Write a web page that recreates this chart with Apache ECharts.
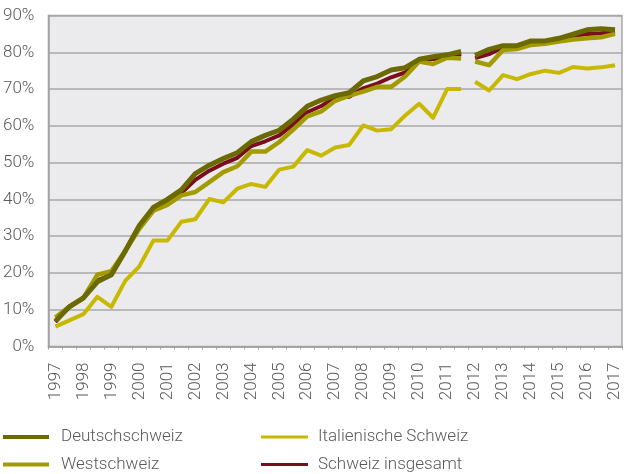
<!DOCTYPE html>
<html>
<head>
<meta charset="utf-8">
<script src="https://cdn.jsdelivr.net/npm/echarts@6/dist/echarts.min.js"></script>
<style>
  html, body { margin: 0; padding: 0; background: #fff; }
  #chart { width: 624px; height: 474px; }
</style>
</head>
<body>
<div id="chart"></div>
<script>
// half-year points, labels only on full years
const years = [1997, 1998, 1999, 2000, 2001, 2002, 2003, 2004, 2005, 2006, 2007,
  2008, 2009, 2010, 2011, 2012, 2013, 2014, 2015, 2016, 2017];

const deutschschweiz = [6.9, 10.8, 13.2, 17.6, 19.5, 26.0, 32.9, 37.8, 40.0, 42.6,
  47.0, 49.3, 51.1, 52.7, 55.7, 57.4, 58.8, 61.8, 65.3, 67.0,
  68.2, 69.0, 72.2, 73.4, 75.2, 75.8, 78.1, 78.8, 79.3, 80.2,
  79.1, 80.8, 81.8, 81.8, 83.1, 83.1, 83.8, 84.9, 86.1, 86.4, 86.1];
const westschweiz = [7.9, 10.9, 13.2, 19.5, 20.5, 26.0, 32.0, 36.9, 38.5, 41.1,
  42.0, 44.7, 47.4, 49.0, 53.0, 53.0, 55.6, 59.0, 62.6, 63.9,
  66.8, 68.2, 69.3, 70.6, 70.6, 73.4, 77.5, 76.8, 78.5, 78.3,
  77.5, 76.5, 80.6, 80.9, 82.0, 82.3, 82.9, 83.5, 83.8, 84.1, 85.0];
const italienisch = [5.4, 7.1, 8.8, 13.5, 10.8, 17.9, 21.8, 28.8, 28.8, 33.9,
  34.6, 40.1, 39.2, 42.9, 44.2, 43.4, 48.1, 48.9, 53.4, 51.9,
  54.1, 54.8, 60.1, 58.7, 59.1, 62.8, 66.0, 62.2, 70.0, 70.0,
  72.0, 69.6, 73.8, 72.7, 74.1, 75.0, 74.4, 76.0, 75.6, 75.9, 76.5];
const insgesamt = [6.7, 10.9, 13.1, 18.0, 19.5, 26.2, 32.8, 37.6, 39.0, 41.7,
  45.3, 47.8, 49.7, 51.3, 54.5, 55.8, 57.4, 60.4, 63.7, 65.4,
  67.6, 67.9, 70.2, 71.5, 73.2, 74.5, 77.5, 78.2, 78.6, 79.5,
  78.4, 79.5, 81.4, 81.5, 82.5, 82.7, 83.4, 84.3, 85.0, 85.2, 85.6];

// the series are interrupted between 2011 (2nd half) and 2012
const breakAt = 30;

const periods = [];
years.forEach((y, i) => {
  periods.push(String(y));
  if (i < years.length - 1) periods.push(y + "/2");
});

const labelColor = "#595959";
const font = "Roboto";

function part(arr, first) {
  return arr.map((v, i) => ((first ? i < breakAt : i >= breakAt) ? v : null));
}

function lines(name, arr, color, width, z) {
  return [true, false].map((first) => ({
    name: name,
    type: "line",
    data: part(arr, first),
    showSymbol: false,
    symbol: "none",
    z: z,
    lineStyle: { color: color, width: width, join: "round" },
    itemStyle: { color: color },
    emphasis: { disabled: true },
  }));
}

function legendItem(name, left, top, width, height, gap) {
  return {
    left: left, top: top, padding: 0,
    itemWidth: width, itemHeight: height, icon: "rect",
    selectedMode: false,
    textStyle: {
      color: labelColor, fontSize: 17, fontFamily: font, fontWeight: 300,
      padding: [0, 0, 0, gap],
    },
    data: [name],
  };
}

const chart = echarts.init(document.getElementById("chart"));
const option = {
  animation: false,
  textStyle: { fontFamily: font },
  grid: {
    left: 48, right: 2, top: 15.5, bottom: 127.5,
    show: true, backgroundColor: "#ebebed", borderColor: "#a8a8a8", borderWidth: 1.5,
  },
  legend: [
    legendItem("Deutschschweiz", 3, 428.5, 46, 4, 7),
    legendItem("Westschweiz", 3, 456, 46, 4, 7),
    legendItem("Italienische Schweiz", 261, 428.5, 47, 3, 5),
    legendItem("Schweiz insgesamt", 261, 456, 47, 3, 5),
  ],
  xAxis: {
    type: "category",
    data: periods,
    boundaryGap: true,
    axisLine: { lineStyle: { color: "#a0a0a0", width: 1.5 } },
    axisTick: { show: true, interval: 0, length: 3, lineStyle: { color: "#a0a0a0" } },
    axisLabel: {
      interval: 1, rotate: 90, margin: 16, color: labelColor, fontSize: 17,
      fontFamily: font, fontWeight: 300,
    },
    splitLine: { show: false },
  },
  yAxis: {
    type: "value",
    min: 0, max: 90, interval: 10,
    axisLine: { show: true, lineStyle: { color: "#a0a0a0", width: 1.5 } },
    axisTick: { show: false },
    axisLabel: {
      formatter: "{value}%", margin: 14, color: labelColor, fontSize: 17,
      fontFamily: font, fontWeight: 300,
    },
    splitLine: { lineStyle: { color: "#a8a8a8", width: 1.5 } },
  },
  series: [
    ...lines("Schweiz insgesamt", insgesamt, "#7b0d1e", 4, 2),
    ...lines("Italienische Schweiz", italienisch, "#c8b900", 4, 3),
    ...lines("Westschweiz", westschweiz, "#a39c00", 4.5, 4),
    ...lines("Deutschschweiz", deutschschweiz, "#6b6a00", 5, 5),
  ],
};
option && chart.setOption(option);
</script>
</body>
</html>
